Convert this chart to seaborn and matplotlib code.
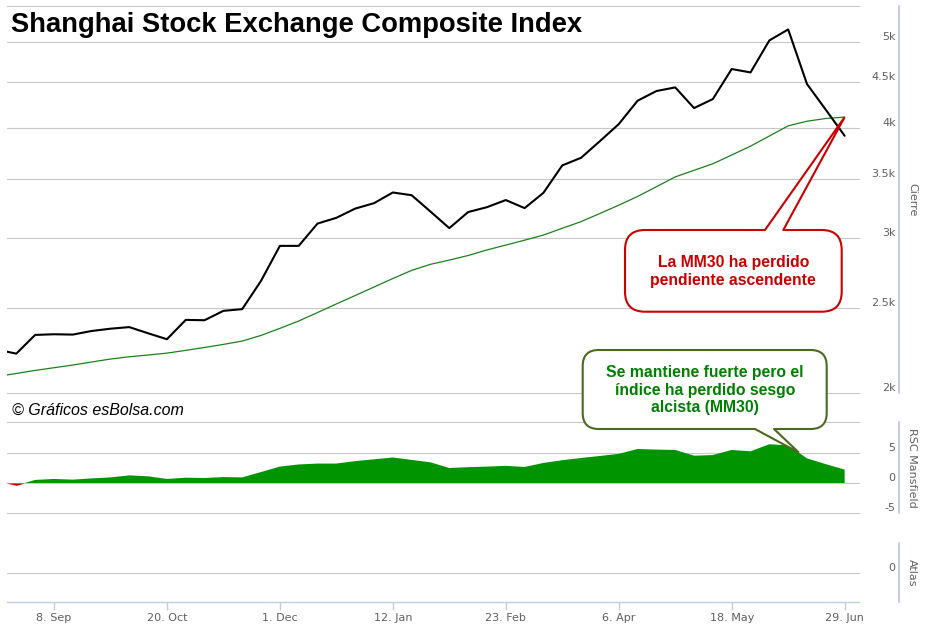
import numpy as np
import pandas as pd
import matplotlib.pyplot as plt
import matplotlib.dates as mdates
from matplotlib.lines import Line2D
from matplotlib.patches import FancyBboxPatch, Polygon
import seaborn as sns

# Weekly data, Mondays 18 Aug 2014 .. 29 Jun 2015
fechas = pd.date_range('2014-08-18', '2015-06-29', freq='7D')
cierre = [2241, 2218, 2329, 2333, 2331, 2353, 2367, 2377, 2339, 2303,
          2422, 2420, 2480, 2491, 2682, 2938, 2938, 3114, 3161, 3238,
          3284, 3377, 3353, 3213, 3077, 3209, 3250, 3311, 3242, 3374,
          3624, 3697, 3861, 4036, 4290, 4400, 4442, 4209, 4309, 4660,
          4619, 5021, 5167, 4481, 4190, 3915]
mm30 = [2090, 2106, 2123, 2138, 2153, 2170, 2187, 2200, 2210, 2221,
        2237, 2254, 2272, 2292, 2326, 2369, 2415, 2469, 2525, 2581,
        2639, 2698, 2756, 2800, 2831, 2865, 2907, 2944, 2982, 3022,
        3076, 3130, 3197, 3267, 3342, 3428, 3517, 3578, 3640, 3724,
        3811, 3913, 4018, 4067, 4096, 4111]
rsc_mansfield = [0.35, -0.4, 0.5, 0.66, 0.55, 0.75, 0.92, 1.25, 1.1, 0.66,
                 0.87, 0.82, 0.97, 0.92, 1.8, 2.7, 3.05, 3.2, 3.2, 3.6,
                 3.9, 4.2, 3.8, 3.4, 2.47, 2.6, 2.7, 2.82, 2.64, 3.3,
                 3.75, 4.12, 4.45, 4.8, 5.6, 5.5, 5.44, 4.5, 4.6, 5.44,
                 5.22, 6.38, 6.2, 4.05, 3.1, 2.2]

x_ticks = ['2014-09-08', '2014-10-20', '2014-12-01', '2015-01-12',
           '2015-02-23', '2015-04-06', '2015-05-18', '2015-06-29']
x_labels = ['8. Sep', '20. Oct', '1. Dec', '12. Jan', '23. Feb', '6. Apr', '18. May', '29. Jun']
cierre_ticks = [2000, 2500, 3000, 3500, 4000, 4500, 5000, 5500]
cierre_labels = ['2k', '2.5k', '3k', '3.5k', '4k', '4.5k', '5k', '']
rsc_ticks = [-5, 0, 5, 10]
rsc_labels = ['-5', '0', '5', '']

df = pd.DataFrame({'fecha': fechas, 'cierre': cierre, 'mm30': mm30, 'rsc': rsc_mansfield})

sns.set_style('white')
plt.rcParams['font.family'] = ['DejaVu Sans']

W, H = 933, 634
GRID = '#C8C8C8'
AXIS = '#C0D0E0'
LBL = '#606060'

fig = plt.figure(figsize=(W / 100, H / 100), dpi=100)
fig.patch.set_facecolor('white')


def px_box(x0, y0, x1, y1):
    return [x0 / W, 1 - y1 / H, (x1 - x0) / W, (y1 - y0) / H]


ax_main = fig.add_axes(px_box(7, 5.5, 859, 393.3))
ax_rsc = fig.add_axes(px_box(7, 422.3, 859, 513.3))
ax_atlas = fig.add_axes(px_box(7, 543, 859, 602.3))

# main panel
sns.lineplot(data=df, x='fecha', y='mm30', ax=ax_main, color='#1B821B', lw=0.9)
sns.lineplot(data=df, x='fecha', y='cierre', ax=ax_main, color='black', lw=1.5)
ax_main.set_yscale('log')
ax_main.set_ylim(2000, 5500)
ax_main.yaxis.set_minor_locator(plt.NullLocator())

# RSC Mansfield panel
rsc = np.array(rsc_mansfield)
ax_rsc.fill_between(df['fecha'], 0, rsc, where=rsc >= 0, interpolate=True, color='#009400', lw=0)
ax_rsc.fill_between(df['fecha'], 0, rsc, where=rsc <= 0, interpolate=True, color='#D00000', lw=0)
ax_rsc.set_ylim(-5, 10)

ax_atlas.set_ylim(-1, 1)

xlim = (pd.Timestamp('2014-08-21 13:00'), pd.Timestamp('2015-07-04 08:00'))
panels = [(ax_main, cierre_ticks, cierre_labels, 'Cierre'),
          (ax_rsc, rsc_ticks, rsc_labels, 'RSC Mansfield'),
          (ax_atlas, [0], ['0'], 'Atlas')]
for ax, ticks, labels, name in panels:
    ax.set_xlim(*xlim)
    ax.set_xlabel('')
    ax.set_ylabel('')
    ax.grid(False)
    for v in ticks:
        ax.axhline(v, color=GRID, lw=0.8, clip_on=False, zorder=0.5)
    for s in ax.spines.values():
        s.set_visible(False)
    ax.yaxis.tick_right()
    ax.set_yticks(ticks)
    ax.set_yticklabels(labels)
    ax.tick_params(axis='y', length=0, pad=26.4, labelsize=8, labelcolor=LBL)
    for t in ax.get_yticklabels():
        t.set_horizontalalignment('right')
        t.set_verticalalignment('bottom')
    ax.text(1.0622, 0.5, name, transform=ax.transAxes, rotation=270,
            ha='center', va='center', fontsize=8, color=LBL)
    # right-hand axis line
    pos = ax.get_position()
    fig.add_artist(Line2D([899 / W, 899 / W], [pos.y0, pos.y1], transform=fig.transFigure,
                          color=AXIS, lw=1.5))

for ax in (ax_main, ax_rsc):
    ax.set_xticks([])

ax_atlas.spines['bottom'].set_visible(True)
ax_atlas.spines['bottom'].set_color(AXIS)
ax_atlas.spines['bottom'].set_linewidth(1)
ax_atlas.set_xticks(pd.to_datetime(x_ticks))
ax_atlas.set_xticklabels(x_labels)
ax_atlas.tick_params(axis='x', bottom=True, length=5.5, width=1, color=AXIS,
                     labelsize=8, labelcolor=LBL, pad=2)

# overlay in pixel coordinates for title, watermark and callouts
ov = fig.add_axes([0, 0, 1, 1])
ov.set_xlim(0, W)
ov.set_ylim(H, 0)
ov.axis('off')
ov.set_zorder(10)


def to_px(ax, fecha, val):
    d = ax.transData.transform((mdates.date2num(pd.Timestamp(fecha)), val))
    return d[0], H - d[1]


ov.text(11, 31.7, 'Shanghai Stock Exchange Composite Index', ha='left', va='baseline',
        fontsize=19.7, fontweight='bold', family='Liberation Sans', color='black')
ov.text(12, 410, '© Gráficos esBolsa.com', ha='left', va='center', fontsize=11.5,
        style='italic', family='Liberation Sans', color='black')


def callout(x0, y0, x1, y1, base, tip, edge, txt, tcolor, radius):
    ov.add_patch(FancyBboxPatch((x0, y0), x1 - x0, y1 - y0,
                                boxstyle=f'round,pad=0,rounding_size={radius}',
                                facecolor='white', edgecolor=edge, lw=1.5, zorder=2))
    by = base[2]
    inner = by + 2 if by <= y0 + 1 else by - 2
    ov.add_patch(Polygon([(base[0], inner), (base[0], by), tip, (base[1], by), (base[1], inner)],
                         closed=False, facecolor='white', edgecolor='none', zorder=3))
    ov.add_line(Line2D([base[0], tip[0], base[1]], [by, tip[1], by], color=edge, lw=1.5,
                       zorder=4, solid_joinstyle='miter'))
    ov.text((x0 + x1) / 2, (y0 + y1) / 2 + 0.5, txt, ha='center', va='center', color=tcolor,
            fontsize=11.3, fontweight='bold', family='Liberation Sans', linespacing=1.2, zorder=5)


tip_red = to_px(ax_main, fechas[-1], mm30[-1])
callout(625, 230, 841.7, 311.7, (765, 783.3, 230), tip_red, '#CC0000',
        'La MM30 ha perdido\npendiente ascendente', '#CC0000', 20)

tip_green = to_px(ax_rsc, '2015-06-12', 5.0)
callout(582.7, 350, 826.7, 429, (755, 774, 429), tip_green, '#4A6B1E',
        'Se mantiene fuerte pero el\níndice ha perdido sesgo\nalcista (MM30)', '#008000', 16)

fig.savefig('out.png', dpi=100)
